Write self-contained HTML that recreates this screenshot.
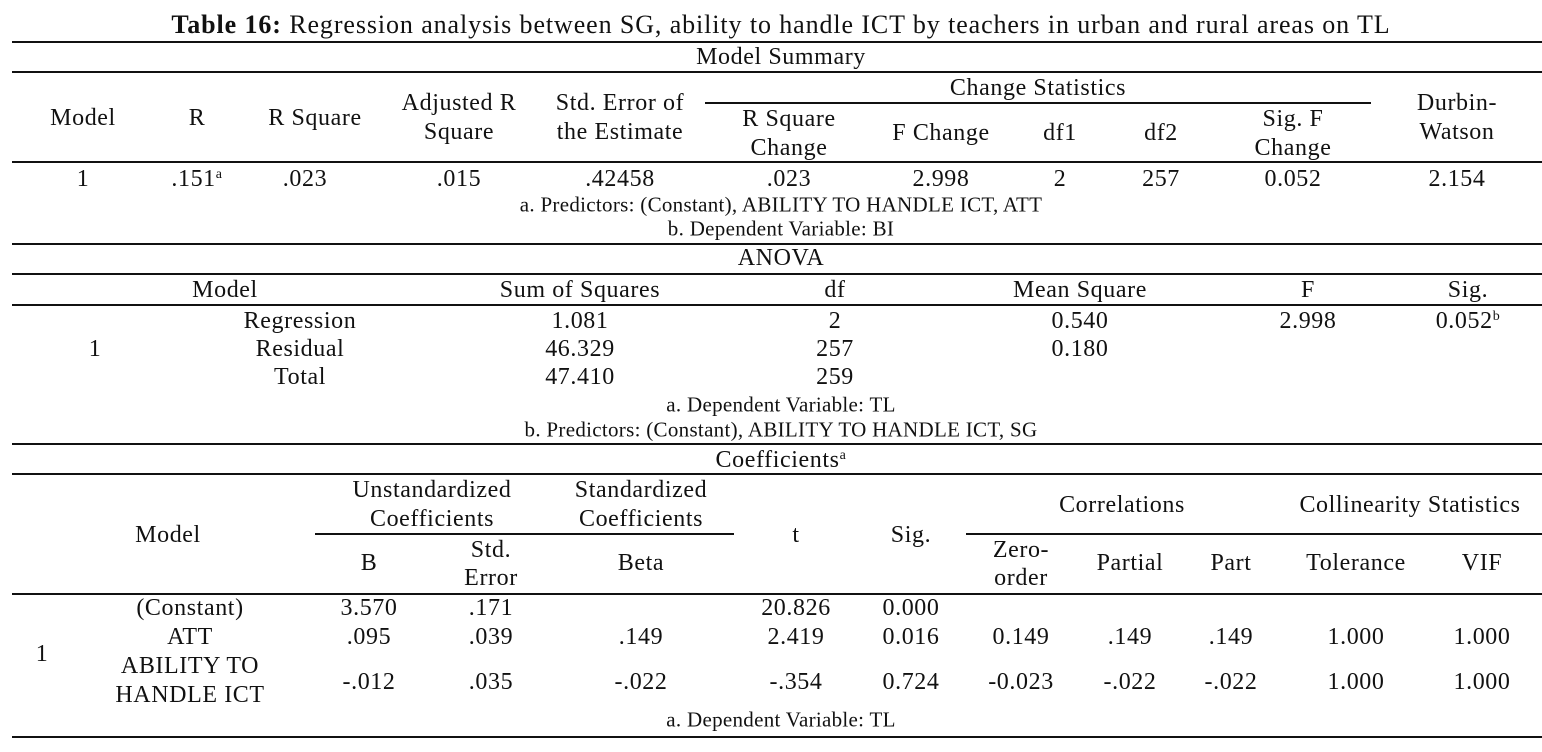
<!DOCTYPE html>
<html><head><meta charset="utf-8"><style>
html,body{margin:0;padding:0;background:#fff}
#root{position:relative;width:1542px;height:752px;overflow:hidden;font-family:"Liberation Serif",serif;font-size:24px;letter-spacing:0.6px;color:#111}
.t{position:absolute;transform:translate(-50%,-50%);white-space:nowrap;line-height:1}
.l{position:absolute;height:1.5px;background:#111}
sup{font-size:14px;vertical-align:8px}
.fn{font-size:21px;letter-spacing:0.3px}
</style></head><body>
<div id="root">
<div class="t" style="left:781px;top:25px;font-size:26px;letter-spacing:0.9px"><b>Table 16:</b> Regression analysis between SG, ability to handle ICT by teachers in urban and rural areas on TL</div>

<div class="l" style="left:12px;width:1530px;top:41px"></div>
<div class="l" style="left:12px;width:1530px;top:71px"></div>
<div class="l" style="left:705px;width:666px;top:102px"></div>
<div class="l" style="left:12px;width:1530px;top:161px"></div>
<div class="l" style="left:12px;width:1530px;top:243px"></div>
<div class="l" style="left:12px;width:1530px;top:273px"></div>
<div class="l" style="left:12px;width:1530px;top:304px"></div>
<div class="l" style="left:12px;width:1530px;top:443px"></div>
<div class="l" style="left:12px;width:1530px;top:473px"></div>
<div class="l" style="left:315px;width:419px;top:533px"></div>
<div class="l" style="left:966px;width:576px;top:533px"></div>
<div class="l" style="left:12px;width:1530px;top:593px"></div>
<div class="l" style="left:12px;width:1530px;top:736px"></div>

<div class="t" style="left:781px;top:57px">Model Summary</div>
<div class="t" style="left:83px;top:118px">Model</div>
<div class="t" style="left:197px;top:118px">R</div>
<div class="t" style="left:315px;top:118px">R Square</div>
<div class="t" style="left:459px;top:103px">Adjusted R</div>
<div class="t" style="left:459px;top:132px">Square</div>
<div class="t" style="left:620px;top:103px">Std. Error of</div>
<div class="t" style="left:620px;top:132px">the Estimate</div>
<div class="t" style="left:1038px;top:88px">Change Statistics</div>
<div class="t" style="left:789px;top:119px">R Square</div>
<div class="t" style="left:789px;top:148px">Change</div>
<div class="t" style="left:941px;top:133px">F Change</div>
<div class="t" style="left:1060px;top:133px">df1</div>
<div class="t" style="left:1161px;top:133px">df2</div>
<div class="t" style="left:1293px;top:119px">Sig. F</div>
<div class="t" style="left:1293px;top:148px">Change</div>
<div class="t" style="left:1457px;top:103px">Durbin-</div>
<div class="t" style="left:1457px;top:132px">Watson</div>
<div class="t" style="left:83px;top:179px">1</div>
<div class="t" style="left:197px;top:179px">.151<sup>a</sup></div>
<div class="t" style="left:305px;top:179px">.023</div>
<div class="t" style="left:459px;top:179px">.015</div>
<div class="t" style="left:620px;top:179px">.42458</div>
<div class="t" style="left:789px;top:179px">.023</div>
<div class="t" style="left:941px;top:179px">2.998</div>
<div class="t" style="left:1060px;top:179px">2</div>
<div class="t" style="left:1161px;top:179px">257</div>
<div class="t" style="left:1293px;top:179px">0.052</div>
<div class="t" style="left:1457px;top:179px">2.154</div>
<div class="t fn" style="left:781px;top:205px">a. Predictors: (Constant), ABILITY TO HANDLE ICT, ATT</div>
<div class="t fn" style="left:781px;top:229px">b. Dependent Variable: BI</div>

<div class="t" style="left:781px;top:258px">ANOVA</div>
<div class="t" style="left:225px;top:290px">Model</div>
<div class="t" style="left:580px;top:290px">Sum of Squares</div>
<div class="t" style="left:835px;top:290px">df</div>
<div class="t" style="left:1080px;top:290px">Mean Square</div>
<div class="t" style="left:1308px;top:290px">F</div>
<div class="t" style="left:1468px;top:290px">Sig.</div>
<div class="t" style="left:95px;top:349px">1</div>
<div class="t" style="left:300px;top:321px">Regression</div>
<div class="t" style="left:300px;top:349px">Residual</div>
<div class="t" style="left:300px;top:377px">Total</div>
<div class="t" style="left:580px;top:321px">1.081</div>
<div class="t" style="left:580px;top:349px">46.329</div>
<div class="t" style="left:580px;top:377px">47.410</div>
<div class="t" style="left:835px;top:321px">2</div>
<div class="t" style="left:835px;top:349px">257</div>
<div class="t" style="left:835px;top:377px">259</div>
<div class="t" style="left:1080px;top:321px">0.540</div>
<div class="t" style="left:1080px;top:349px">0.180</div>
<div class="t" style="left:1308px;top:321px">2.998</div>
<div class="t" style="left:1468px;top:321px">0.052<sup>b</sup></div>
<div class="t fn" style="left:781px;top:405px">a. Dependent Variable: TL</div>
<div class="t fn" style="left:781px;top:430px">b. Predictors: (Constant), ABILITY TO HANDLE ICT, SG</div>

<div class="t" style="left:781px;top:460px">Coefficients<sup>a</sup></div>
<div class="t" style="left:168px;top:535px">Model</div>
<div class="t" style="left:432px;top:490px">Unstandardized</div>
<div class="t" style="left:432px;top:519px">Coefficients</div>
<div class="t" style="left:641px;top:490px">Standardized</div>
<div class="t" style="left:641px;top:519px">Coefficients</div>
<div class="t" style="left:796px;top:535px">t</div>
<div class="t" style="left:911px;top:535px">Sig.</div>
<div class="t" style="left:1122px;top:505px">Correlations</div>
<div class="t" style="left:1410px;top:505px">Collinearity Statistics</div>
<div class="t" style="left:369px;top:563px">B</div>
<div class="t" style="left:491px;top:550px">Std.</div>
<div class="t" style="left:491px;top:578px">Error</div>
<div class="t" style="left:641px;top:563px">Beta</div>
<div class="t" style="left:1021px;top:550px">Zero-</div>
<div class="t" style="left:1021px;top:578px">order</div>
<div class="t" style="left:1130px;top:563px">Partial</div>
<div class="t" style="left:1231px;top:563px">Part</div>
<div class="t" style="left:1356px;top:563px">Tolerance</div>
<div class="t" style="left:1482px;top:563px">VIF</div>

<div class="t" style="left:42px;top:654px">1</div>
<div class="t" style="left:190px;top:608px">(Constant)</div>
<div class="t" style="left:190px;top:637px">ATT</div>
<div class="t" style="left:190px;top:666px">ABILITY TO</div>
<div class="t" style="left:190px;top:695px">HANDLE ICT</div>
<div class="t" style="left:369px;top:608px">3.570</div>
<div class="t" style="left:491px;top:608px">.171</div>
<div class="t" style="left:796px;top:608px">20.826</div>
<div class="t" style="left:911px;top:608px">0.000</div>
<div class="t" style="left:369px;top:637px">.095</div>
<div class="t" style="left:491px;top:637px">.039</div>
<div class="t" style="left:641px;top:637px">.149</div>
<div class="t" style="left:796px;top:637px">2.419</div>
<div class="t" style="left:911px;top:637px">0.016</div>
<div class="t" style="left:1021px;top:637px">0.149</div>
<div class="t" style="left:1130px;top:637px">.149</div>
<div class="t" style="left:1231px;top:637px">.149</div>
<div class="t" style="left:1356px;top:637px">1.000</div>
<div class="t" style="left:1482px;top:637px">1.000</div>
<div class="t" style="left:369px;top:682px">-.012</div>
<div class="t" style="left:491px;top:682px">.035</div>
<div class="t" style="left:641px;top:682px">-.022</div>
<div class="t" style="left:796px;top:682px">-.354</div>
<div class="t" style="left:911px;top:682px">0.724</div>
<div class="t" style="left:1021px;top:682px">-0.023</div>
<div class="t" style="left:1130px;top:682px">-.022</div>
<div class="t" style="left:1231px;top:682px">-.022</div>
<div class="t" style="left:1356px;top:682px">1.000</div>
<div class="t" style="left:1482px;top:682px">1.000</div>
<div class="t fn" style="left:781px;top:720px">a. Dependent Variable: TL</div>
</div>
</body></html>
